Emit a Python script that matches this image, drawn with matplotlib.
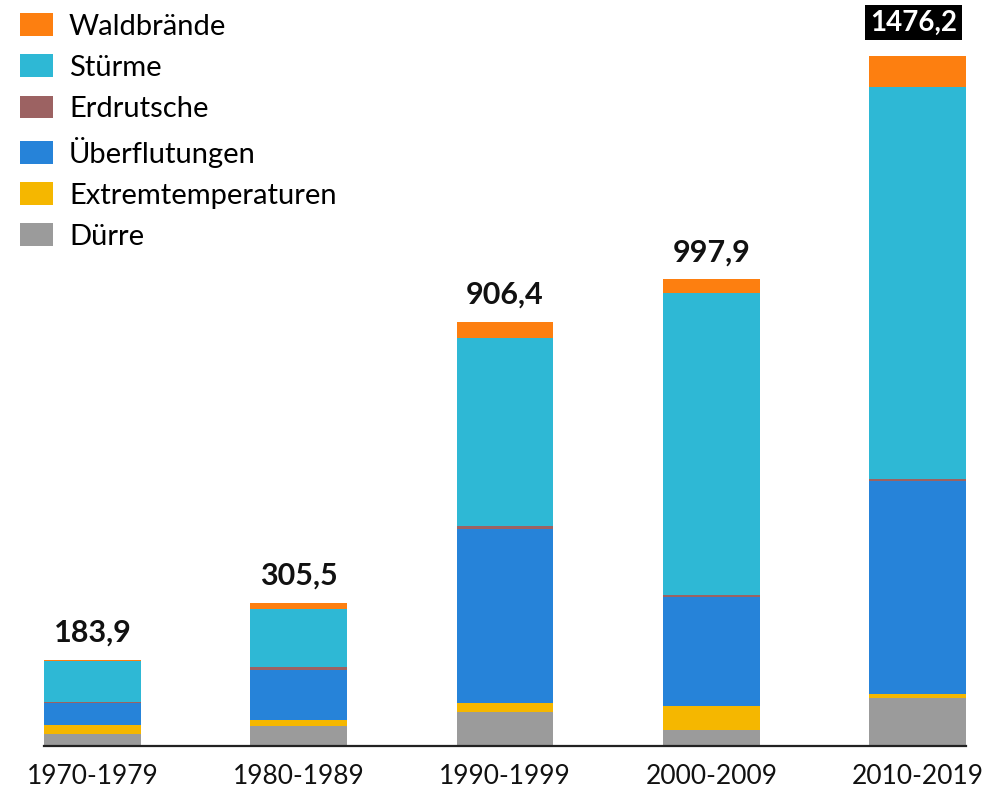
import numpy as np
import matplotlib
matplotlib.use("Agg")
from matplotlib import pyplot as plt
from matplotlib.patches import Patch

plt.rcParams['font.family'] = ['Lato', 'DejaVu Sans']

decades = ["1970-1979", "1980-1989", "1990-1999", "2000-2009", "2010-2019"]

# Schäden je Jahrzehnt, gestapelt von unten nach oben
duerre = [25.5, 43.0, 73.0, 34.0, 102.6]
extremtemp = [18.5, 12.0, 20.0, 51.0, 8.6]
ueberflutungen = [48.5, 106.5, 372.0, 234.0, 455.0]
erdrutsche = [1.0, 7.5, 5.5, 2.8, 4.3]
stuerme = [88.5, 124.0, 402.0, 646.0, 839.4]
waldbraende = [2.4, 12.5, 33.9, 30.0, 66.3]

totals = [183.9, 305.5, 906.4, 997.9, 1476.2]

series = [
    ("Dürre", duerre, "#9b9b9b"),
    ("Extremtemperaturen", extremtemp, "#f5b700"),
    ("Überflutungen", ueberflutungen, "#2683d9"),
    ("Erdrutsche", erdrutsche, "#9c6262"),
    ("Stürme", stuerme, "#2eb8d5"),
    ("Waldbrände", waldbraende, "#fd7f10"),
]

fig = plt.figure(figsize=(9.87, 7.89), dpi=100)
ax = fig.add_axes([0.0446, 0.0545, 0.9341, 0.9455])

x = np.arange(len(decades))
width = 0.47
bottom = np.zeros(len(decades))
for name, vals, col in series:
    ax.bar(x, vals, width, bottom=bottom, color=col, label=name, linewidth=0)
    bottom += np.array(vals)

ax.set_xlim(-width / 2, len(decades) - 1 + width / 2)
ax.set_ylim(0, 1595)

for s in ["top", "right", "left"]:
    ax.spines[s].set_visible(False)
ax.spines["bottom"].set_color("#222222")
ax.spines["bottom"].set_linewidth(1.6)
ax.set_yticks([])
ax.set_xticks(x)
ax.set_xticklabels(decades, fontsize=19, color="#111111")
ax.tick_params(axis="x", length=0, pad=13)

imax = int(np.argmax(totals))
for i, t in enumerate(totals):
    lbl = f"{t:.1f}".replace(".", ",")
    if i == imax:
        ax.annotate(lbl, (i, t), xytext=(-3, 18), textcoords="offset points",
                    ha="center", va="baseline", fontsize=20, fontweight="bold",
                    color="white",
                    bbox=dict(boxstyle="square,pad=0.17", fc="black", ec="none"))
    else:
        ax.annotate(lbl, (i, t), xytext=(0, 13), textcoords="offset points",
                    ha="center", va="baseline", fontsize=22, fontweight="bold",
                    color="#111111")

handles = [Patch(facecolor=col, edgecolor="none") for _, _, col in series][::-1]
labels = [name for name, _, _ in series][::-1]
fig.legend(handles, labels, loc="upper left", bbox_to_anchor=(0.0203, 0.983),
           frameon=False, fontsize=21, handlelength=1.13, handleheight=0.82,
           handletextpad=0.55, labelspacing=0.5, borderpad=0, borderaxespad=0)

fig.savefig("out.png", dpi=100)
